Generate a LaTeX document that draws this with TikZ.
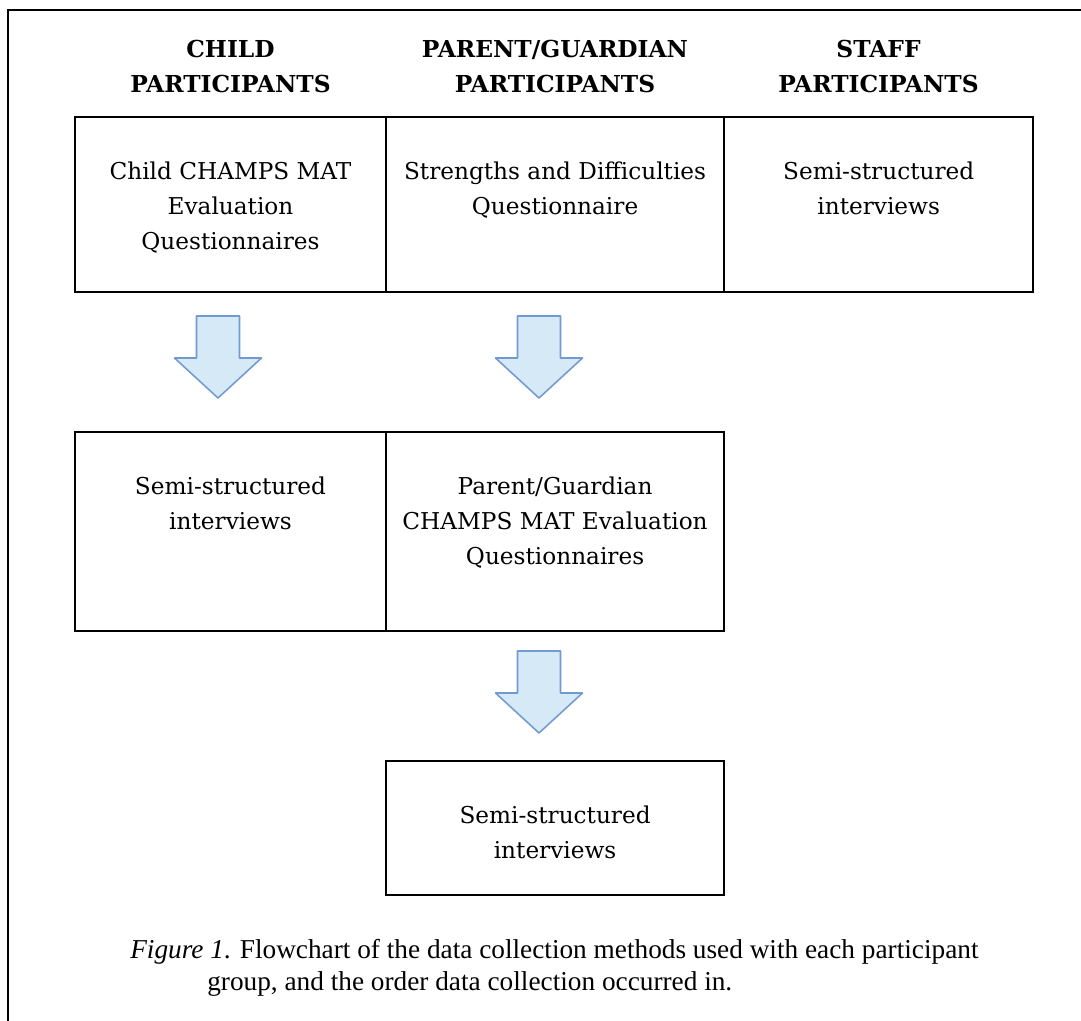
\documentclass[tikz,border=0pt]{standalone}
\usepackage{fontspec}
\setmainfont{DejaVu Serif}
\newfontfamily\capfont{Liberation Serif}
\usetikzlibrary{positioning}

\definecolor{arrfill}{RGB}{214,233,247}
\definecolor{arrdraw}{RGB}{112,154,208}

\tikzset{
  box/.style={draw, line width=1.2pt, inner sep=0pt, outer sep=0pt},
  boxtext/.style={anchor=north, align=center, inner sep=0pt, font=\fontsize{16.5}{24.9}\selectfont},
  hdr/.style={anchor=north, align=center, inner sep=0pt, font=\bfseries\fontsize{16.6}{24.9}\selectfont},
  capt/.style={anchor=north west, align=left, inner sep=0pt, font=\capfont\fontsize{19.4}{22.8}\selectfont},
  downarr/.pic={\draw[arrdraw, fill=arrfill, line width=1.1pt, line join=round]
    (-21.5,0) -- (21.5,0) -- (21.5,42) -- (43.5,42) -- (0,82) -- (-43.5,42) -- (-21.5,42) -- cycle;}
}

\begin{document}
\begin{tikzpicture}[x=0.025cm, y=-0.025cm]
		\useasboundingbox (0,0) rectangle (1081,1021);
		\draw[line width=1.4pt] (8,1021) -- (8,10) -- (1081,10);

		% column heads
		\node[hdr] (hchild) at (230.5,32.5) {\strut CHILD\\PARTICIPANTS};
		\node[hdr] (hparent) at (555,32.5) {\strut PARENT/GUARDIAN\\PARTICIPANTS};
		\node[hdr] (hstaff) at (878.5,32.5) {\strut STAFF\\PARTICIPANTS};

		% first row
		\node[box, minimum width=7.775cm, minimum height=4.375cm] (c1) at (230.5,204.5) {};
		\node[box, minimum width=8.45cm, minimum height=4.375cm, right=0pt of c1] (p1) {};
		\node[box, minimum width=7.725cm, minimum height=4.375cm, right=0pt of p1] (s1) {};
		\node[boxtext] (c1t) at ([yshift=-0.94cm]c1.north) {\strut Child CHAMPS MAT\\Evaluation\\Questionnaires};
		\node[boxtext] (p1t) at ([yshift=-0.94cm]p1.north) {\strut Strengths and Difficulties\\Questionnaire};
		\node[boxtext] (s1t) at ([yshift=-0.94cm]s1.north) {\strut Semi-structured\\interviews};

		% second row
		\node[box, minimum width=7.775cm, minimum height=4.975cm, below=3.5cm of c1] (c2) {};
		\node[box, minimum width=8.45cm, minimum height=4.975cm, right=0pt of c2] (p2) {};
		\node[boxtext] (c2t) at ([yshift=-0.94cm]c2.north) {\strut Semi-structured\\interviews};
		\node[boxtext] (p2t) at ([yshift=-0.94cm]p2.north) {\strut Parent/Guardian\\CHAMPS MAT Evaluation\\Questionnaires};

		% third row
		\node[box, minimum width=8.45cm, minimum height=3.35cm, below=3.25cm of p2] (p3) {};
		\node[boxtext] (p3t) at ([yshift=-0.94cm]p3.north) {\strut Semi-structured\\interviews};

		% arrows
		\pic at (218,316) {downarr};
		\pic at (539,316) {downarr};
		\pic at (539,651) {downarr};

		\node[capt] (cap) at (130,935.5) {\strut\textit{Figure 1}. Flowchart of the data collection methods used with each participant\\\hspace*{1.925cm}group, and the order data collection occurred in.};
\end{tikzpicture}
\end{document}
